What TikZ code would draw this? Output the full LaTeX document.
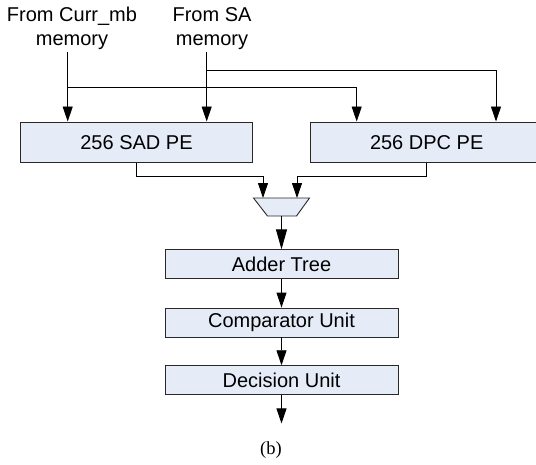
\documentclass[tikz,border=0pt]{standalone}
\usepackage{fontspec}
\setmainfont{Liberation Sans}
\newfontfamily\capfont{Liberation Serif}
\usetikzlibrary{arrows.meta,calc}
\definecolor{boxfill}{RGB}{229,236,247}
\definecolor{boxline}{RGB}{40,40,40}

\begin{document}
\begin{tikzpicture}[x=1pt,y=-1pt,
  unit/.style={draw=boxline, fill=boxfill, line width=0.9pt, inner sep=0pt,
               font=\fontsize{20}{24}\selectfont},
  wide/.style={unit, minimum width=232pt, minimum height=40.5pt},
  stage/.style={unit, minimum width=233pt, minimum height=29pt},
  wire/.style={line width=0.9pt, draw=black},
  flow/.style={wire, -{Triangle[length=15pt,width=10pt]}},
  bigflow/.style={wire, -{Triangle[length=20pt,width=11pt]}},
  srctext/.style={align=center, inner sep=0pt, font=\fontsize{20}{23.3}\selectfont}]
\useasboundingbox (0,0) rectangle (536,464);

% memory sources
\node[srctext, anchor=south] (currtxt) at (72,49.5) {From Curr\_mb\\memory};
\node[srctext, anchor=south] (satxt) at (212,49.5) {From SA\\memory};
\coordinate (currsrc) at ($(currtxt.south)+(-4.3,2.5)$);
\coordinate (sasrc) at ($(satxt.south)+(-5.3,2.5)$);

% processing element arrays
\node[wide] (sad) at (136.5,142.2) {256 SAD PE};
\node[wide] (dpc) at (426.7,142.2) {256 DPC PE};

% multiplexer
\coordinate (mux) at (281.5,207);
\coordinate (muxtop) at ($(mux)+(0,-9)$);
\coordinate (muxbot) at ($(mux)+(0,9)$);
\draw[unit] ($(mux)+(-28,-9)$) -- ($(mux)+(28,-9)$) -- ($(mux)+(15,9)$)
  -- ($(mux)+(-14,9)$) -- cycle;
\coordinate (muxinL) at ($(muxtop)+(-18.5,0)$);
\coordinate (muxinR) at ($(muxtop)+(15.5,0)$);

% processing chain
\node[stage] (adder) at (281.5,264.3) {Adder Tree};
\node[stage] (comp) at (281.5,322.5) {Comparator Unit};
\node[stage] (dec) at (281.5,380.2) {Decision Unit};
\coordinate (out) at ($(dec.south)+(0,28.3)$);

% caption
\node[font=\capfont\fontsize{18.5}{20}\selectfont, inner sep=0pt] (cap) at (271,450.5) {(b)};

% inputs to the PE arrays
\draw[flow] (currsrc) -- (currsrc |- sad.north);
\draw[flow] (sasrc) -- (sasrc |- sad.north);
\coordinate (currbranch) at ($(currsrc)+(0,35.3)$);
\coordinate (sabranch) at ($(sasrc)+(0,18)$);
\draw[flow] (currbranch) -| ($(dpc.north)+(-70,0)$);
\draw[flow] (sabranch) -| ($(dpc.north)+(69.3,0)$);

% PE outputs into the multiplexer
\draw[flow] (sad.south) -- ++(0,13.3) -| (muxinL);
\draw[flow] (dpc.south) -- ++(0,13.3) -| (muxinR);

% down the chain
\draw[bigflow] (muxbot) -- (adder.north);
\draw[flow] (adder.south) -- (comp.north);
\draw[flow] (comp.south) -- (dec.north);
\draw[flow] (dec.south) -- (out);
\end{tikzpicture}
\end{document}
